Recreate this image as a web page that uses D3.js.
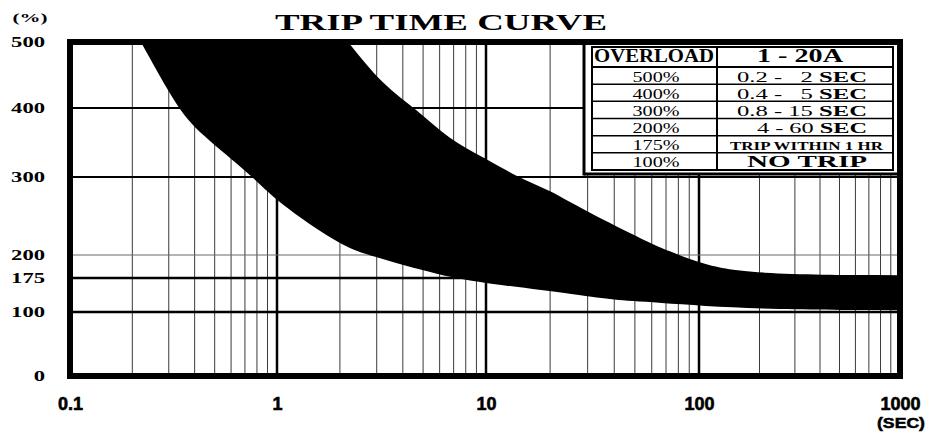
<!DOCTYPE html>
<html>
<head>
<meta charset="utf-8">
<script src="https://cdn.jsdelivr.net/npm/d3@7"></script>
<style>
	body { margin: 0; background: #fff; }
</style>
</head>
<body>
<script>
// Trip time curve - overload % vs trip time (log seconds)

//---- DATA
const timeTicks = [0.1, 1, 10, 100, 1000];          // x axis labels (SEC)
const pctTicks = [0, 100, 175, 200, 300, 400, 500];  // y axis labels (%)

// fastest trip (left / lower edge of the black band)
const minTripTime = [0.22, 0.33, 0.42, 0.77, 1.0, 2.0, 2.7, 6.2, 9.7, 28.5, 39.5, 59, 194, 1000];
const minTripPct  = [500, 400, 364, 300, 268, 213, 200, 177, 164, 137, 126.5, 122, 105, 104];

// slowest trip (right / upper edge of the black band)
const maxTripTime = [2.19, 3.2, 4.7, 6.7, 9.7, 14, 20, 28.5, 59, 71, 101, 173, 1000];
const maxTripPct  = [500, 435, 397, 354, 329, 300, 283, 258, 215, 206, 191, 179, 178];

// table
const tableHeader = ["OVERLOAD", "1 - 20A"];
const overloadRows = ["500%", "400%", "300%", "200%", "175%", "100%"];
const tripRows = ["0.2 -   2 SEC", "0.4 -   5 SEC", "0.8 - 15 SEC", "4 - 60 SEC", "TRIP WITHIN 1 HR", "NO TRIP"];

//---- DRAWING parameters
const width = 936, height = 432;
const serif = "'Liberation Serif', 'Times New Roman', serif";
const sans = "'Liberation Sans', Arial, sans-serif";

const svg = d3.select('body').append('svg')
	.attr('width', width)
	.attr('height', height);

// piecewise log scale - the decades are not all the same width in the original
const x = d3.scaleLog()
	.domain(timeTicks)
	.range([70, 277, 486, 699, 900]);

// the % axis is not linear either
const y = d3.scaleLinear()
	.domain(pctTicks)
	.range([376, 312, 278, 255, 177, 108, 42]);

// minor grid values 2..9 of every decade
let minorTicks = [];
timeTicks.slice(0, -1).forEach(d => {
	for (let k = 2; k <= 9; k++) minorTicks.push(d * k);
});

svg.append('clipPath').attr('id', 'plot')
	.append('rect')
	.attr('x', x(0.1)).attr('y', y(500))
	.attr('width', x(1000) - x(0.1)).attr('height', y(0) - y(500));

const grid = svg.append('g');

grid.selectAll('line.minor')
		.data(minorTicks)
		.enter()
	.append('line')
		.attr('class', 'minor')
		.attr('x1', d => x(d)).attr('x2', d => x(d))
		.attr('y1', y(500)).attr('y2', y(0))
		.attr('stroke', '#3a3a3a')
		.attr('stroke-width', 1);

grid.selectAll('line.major')
		.data(timeTicks.slice(1, -1))
		.enter()
	.append('line')
		.attr('class', 'major')
		.attr('x1', d => x(d)).attr('x2', d => x(d))
		.attr('y1', y(500)).attr('y2', y(0))
		.attr('stroke', 'black')
		.attr('stroke-width', 2.5);

grid.selectAll('line.hz')
		.data(pctTicks.slice(1, -1))
		.enter()
	.append('line')
		.attr('class', 'hz')
		.attr('x1', x(0.1)).attr('x2', x(1000))
		.attr('y1', d => y(d)).attr('y2', d => y(d))
		.attr('stroke', d => d == 200 ? '#6a6a6a' : 'black')
		.attr('stroke-width', d => d == 200 ? 1.2 : (d >= 300 ? 2 : 2.5));

// black band between the two curves (smoothed - the original is drawn by hand)
const minPts = minTripTime.map((t, i) => [x(t), y(minTripPct[i])]);
const maxPts = maxTripTime.map((t, i) => [x(t), y(maxTripPct[i])]).reverse();
const curve = d3.line().curve(d3.curveBasis);

svg.append('path')
	.attr('clip-path', 'url(#plot)')
	.attr('d', curve(minPts) + curve(maxPts).replace(/^M/, 'L') + 'Z')
	.attr('fill', 'black');

//---- table
const tbl = svg.append('g');
const tL = 592, tR = 893, tTop = 47, tBot = 170, colX = 717, headBot = 67;
const rowH = (tBot - headBot) / overloadRows.length;

tbl.append('rect')
	.attr('x', 584).attr('y', y(500))
	.attr('width', x(1000) - 584).attr('height', 174 - y(500))
	.attr('fill', 'white');
tbl.append('line')
	.attr('x1', 584).attr('x2', 584).attr('y1', y(500)).attr('y2', 175.5)
	.attr('stroke', 'black').attr('stroke-width', 3);
tbl.append('line')
	.attr('x1', 584).attr('x2', x(1000)).attr('y1', 174).attr('y2', 174)
	.attr('stroke', 'black').attr('stroke-width', 3);
tbl.append('rect')
	.attr('x', tL).attr('y', tTop)
	.attr('width', tR - tL).attr('height', tBot - tTop)
	.attr('fill', 'none').attr('stroke', 'black').attr('stroke-width', 2);
tbl.append('line')
	.attr('x1', colX).attr('x2', colX).attr('y1', tTop).attr('y2', tBot)
	.attr('stroke', 'black').attr('stroke-width', 2);
tbl.selectAll('line.row')
		.data(overloadRows)
		.enter()
	.append('line')
		.attr('class', 'row')
		.attr('x1', tL).attr('x2', tR)
		.attr('y1', (d, i) => headBot + i * rowH)
		.attr('y2', (d, i) => headBot + i * rowH)
		.attr('stroke', 'black')
		.attr('stroke-width', (d, i) => i == 0 ? 2 : 1.5);

// header
tbl.selectAll('text.head')
		.data(tableHeader)
		.enter()
	.append('text')
		.attr('class', 'head')
		.attr('x', (d, i) => i == 0 ? 654 : 800)
		.attr('y', 62)
		.attr('text-anchor', 'middle')
		.attr('font-family', serif)
		.attr('font-weight', 'bold')
		.attr('font-size', 18)
		.attr('textLength', (d, i) => i == 0 ? 120 : 86)
		.attr('lengthAdjust', 'spacingAndGlyphs')
		.text(d => d);

tbl.selectAll('text.ov')
		.data(overloadRows)
		.enter()
	.append('text')
		.attr('class', 'ov')
		.attr('x', 656)
		.attr('y', (d, i) => headBot + i * rowH + 14.5)
		.attr('text-anchor', 'middle')
		.attr('font-family', serif)
		.attr('font-size', 15)
		.attr('textLength', 47)
		.attr('lengthAdjust', 'spacingAndGlyphs')
		.text(d => d);

// per-row placement of the right column text [x start, width, size, bold]
const tripStyle = [
	[737, 130, 15, false], [737, 130, 15, false], [737, 130, 15, false],
	[757, 110, 15, false], [730, 153, 12.5, true], [747, 120, 17, true]
];

const trips = tbl.selectAll('text.trip')
		.data(tripRows)
		.enter()
	.append('text')
		.attr('class', 'trip')
		.attr('x', (d, i) => tripStyle[i][0])
		.attr('y', (d, i) => headBot + i * rowH + 14.5 - (i == 4 ? 0.5 : 0))
		.attr('xml:space', 'preserve')
		.style('white-space', 'pre')
		.attr('font-family', serif)
		.attr('font-size', (d, i) => tripStyle[i][2])
		.attr('font-weight', (d, i) => tripStyle[i][3] ? 'bold' : 'normal')
		.attr('textLength', (d, i) => tripStyle[i][1])
		.attr('lengthAdjust', 'spacingAndGlyphs');

trips.each(function(d) {
	const t = d3.select(this);
	if (d.endsWith('SEC')) {
		t.append('tspan').text(d.slice(0, -3));
		t.append('tspan').attr('font-weight', 'bold').text('SEC');
	} else {
		t.text(d);
	}
});

//---- frame
svg.append('rect')
	.attr('x', x(0.1)).attr('y', y(500))
	.attr('width', x(1000) - x(0.1)).attr('height', y(0) - y(500))
	.attr('fill', 'none')
	.attr('stroke', 'black')
	.attr('stroke-width', 6);

//---- axes
const yAxis = svg.append('g')
	.attr('transform', `translate(${x(0.1)},0)`)
	.call(d3.axisLeft(y).tickValues(pctTicks).tickSize(0).tickPadding(25));
yAxis.select('.domain').remove();
yAxis.selectAll('text')
	.attr('fill', 'black')
	.attr('font-family', serif)
	.attr('font-weight', 'bold')
	.attr('font-size', 14.5)
	.attr('textLength', d => String(d).length * 11.3)
	.attr('lengthAdjust', 'spacingAndGlyphs');

const xAxis = svg.append('g')
	.attr('transform', `translate(0,${y(0)})`)
	.call(d3.axisBottom(x).tickValues(timeTicks).tickFormat(d => String(d)).tickSize(0).tickPadding(21));
xAxis.select('.domain').remove();
xAxis.selectAll('text')
	.attr('fill', 'black')
	.attr('stroke', 'black')
	.attr('stroke-width', 0.6)
	.attr('font-family', sans)
	.attr('font-weight', 'bold')
	.attr('font-size', 18);

// units
svg.append('text')
	.attr('x', 30).attr('y', 22)
	.attr('text-anchor', 'middle')
	.attr('font-family', serif).attr('font-weight', 'bold').attr('font-size', 13.5)
	.attr('textLength', 35).attr('lengthAdjust', 'spacingAndGlyphs')
	.text('(%)');

svg.append('text')
	.attr('x', 901).attr('y', 428)
	.attr('text-anchor', 'middle')
	.attr('font-family', sans).attr('font-weight', 'bold').attr('font-size', 15)
	.attr('stroke', 'black').attr('stroke-width', 0.5)
	.attr('textLength', 48).attr('lengthAdjust', 'spacingAndGlyphs')
	.text('(SEC)');

// title
svg.append('text')
	.attr('x', 441).attr('y', 30)
	.attr('text-anchor', 'middle')
	.attr('font-family', serif).attr('font-weight', 'bold').attr('font-size', 23)
	.attr('textLength', 332).attr('lengthAdjust', 'spacingAndGlyphs')
	.text('TRIP TIME CURVE');
</script>
</body>
</html>
